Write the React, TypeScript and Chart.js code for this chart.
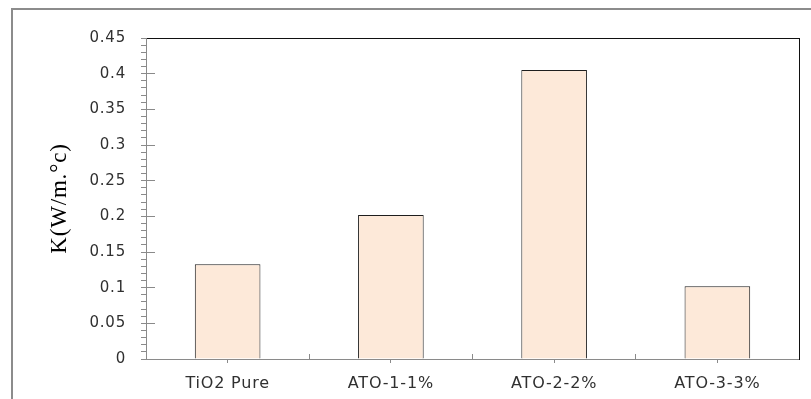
import React, { useEffect, useRef } from "react";
import { Chart, registerables } from "chart.js";

Chart.register(...registerables);

const categories = ["TiO2 Pure", "ATO-1-1%", "ATO-2-2%", "ATO-3-3%"];
const conductivity = [0.133, 0.202, 0.405, 0.102];
const yMin = 0;
const yMax = 0.45;
const majorStep = 0.05;
const minorStep = 0.01;
const yTitle = "K(W/m.°c)";

const letterSpacingPlugin = {
  id: "letterSpacingPlugin",
  beforeDraw(chart: any) {
    (chart.ctx as any).letterSpacing = "0.8px";
  },
  afterDraw(chart: any) {
    (chart.ctx as any).letterSpacing = "0px";
  },
};

export default function App() {
  const canvasRef = useRef<HTMLCanvasElement | null>(null);

  useEffect(() => {
    const canvas = canvasRef.current;
    if (!canvas) return;
    const gray = "#8a8a8a";
    const chart = new Chart(canvas, {
      type: "bar",
      data: {
        labels: categories,
        datasets: [
          {
            data: conductivity,
            backgroundColor: "#FDE9D9",
            borderColor: "#1e1e1e",
            borderWidth: 1,
            categoryPercentage: 1,
            barPercentage: 0.402,
            xAxisID: "x",
            yAxisID: "y",
          },
        ],
      },
      plugins: [letterSpacingPlugin],
      options: {
        animation: false,
        responsive: true,
        maintainAspectRatio: false,
        layout: { padding: { left: 0, top: 29, right: 12, bottom: 0 } },
        plugins: {
          legend: { display: false },
          tooltip: { enabled: false },
          title: { display: false },
        },
        scales: {
          x: {
            type: "category",
            position: "bottom",
            weight: 1,
            offset: true,
            grid: {
              display: true,
              offset: false,
              drawOnChartArea: false,
              drawTicks: true,
              tickLength: 4,
              color: gray,
              lineWidth: 1,
            },
            border: { display: true, color: gray, width: 1 },
            ticks: {
              color: "#303030",
              font: { family: "DejaVu Sans", size: 16 },
              padding: 11,
              maxRotation: 0,
              autoSkip: false,
            },
            afterFit(scale: any) {
              scale.height = 40;
            },
          },
          xb: {
            type: "category",
            position: "bottom",
            weight: 0,
            offset: true,
            grid: {
              display: true,
              offset: true,
              drawOnChartArea: false,
              drawTicks: true,
              tickLength: -5,
              color: gray,
              lineWidth: 1,
            },
            border: { display: false },
            ticks: { display: false },
            afterFit(scale: any) {
              scale.height = 0;
            },
          },
          xTop: {
            type: "linear",
            position: "top",
            min: 0,
            max: 1,
            grid: { display: false, drawTicks: false },
            border: { display: true, color: "#111111", width: 1 },
            ticks: { display: false },
            afterFit(scale: any) {
              scale.height = 0;
            },
          },
          y: {
            type: "linear",
            position: "left",
            weight: 1,
            min: yMin,
            max: yMax,
            grid: {
              display: true,
              drawOnChartArea: false,
              drawTicks: true,
              tickLength: -9,
              color: gray,
              lineWidth: 1,
            },
            border: { display: true, color: gray, width: 1 },
            ticks: {
              stepSize: majorStep,
              autoSkip: false,
              color: "#303030",
              font: { family: "DejaVu Sans", size: 15 },
              padding: 29,
              callback: (v: any) => String(Number(Number(v).toFixed(2))),
            },
            title: {
              display: true,
              text: yTitle,
              color: "#000000",
              font: { family: "Liberation Serif", size: 23 },
              padding: { top: 46, bottom: 0 },
            },
            afterFit(scale: any) {
              scale.width = 146;
            },
          },
          yMinor: {
            type: "linear",
            position: "left",
            weight: 0,
            min: yMin,
            max: yMax,
            grid: {
              display: true,
              drawOnChartArea: false,
              drawTicks: true,
              tickLength: 5,
              color: gray,
              lineWidth: 1,
            },
            border: { display: false },
            ticks: { display: false, stepSize: minorStep, autoSkip: false, font: { size: 4 } },
            afterFit(scale: any) {
              scale.width = 0;
            },
          },
          yRight: {
            type: "linear",
            position: "right",
            min: yMin,
            max: yMax,
            grid: { display: false, drawTicks: false },
            border: { display: true, color: "#111111", width: 1 },
            ticks: { display: false },
            afterFit(scale: any) {
              scale.width = 0;
            },
          },
        },
      } as any,
    });
    return () => {
      chart.destroy();
    };
  }, []);

  return (
    <div
      style={{
        position: "fixed",
        left: 0,
        top: 0,
        width: 811,
        height: 399,
        background: "#ffffff",
      }}
    >
      <div
        style={{
          position: "absolute",
          left: 11,
          top: 8,
          right: 0,
          bottom: 0,
          borderLeft: "2px solid #8c8c8c",
          borderTop: "2px solid #8c8c8c",
        }}
      />
      <canvas
        ref={canvasRef}
        style={{ position: "absolute", left: 0, top: 0, width: 811, height: 399 }}
      />
    </div>
  );
}
